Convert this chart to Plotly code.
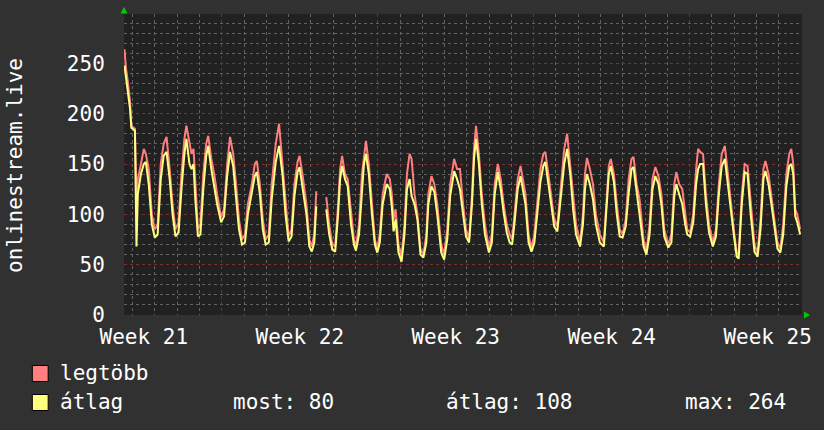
import plotly.graph_objects as go

# ---------------- data ----------------
# time in days from the left edge of the graph
days = [
    0.02, 0.09, 0.18, 0.27, 0.33, 0.49, 0.56, 0.62, 0.76, 0.89, 0.98, 1.11, 1.25,
    1.38, 1.51, 1.65, 1.78, 1.91, 2.05, 2.18,
    2.31, 2.45, 2.58, 2.71, 2.80, 2.94, 3.03, 3.12, 3.20,
    3.32, 3.43, 3.56, 3.69, 3.78, 3.92, 4.05, 4.18,
    4.36, 4.49, 4.63, 4.76, 4.90, 5.03, 5.16,
    5.30, 5.43, 5.56, 5.74, 5.87, 5.96, 6.10, 6.23,
    6.36, 6.50, 6.63, 6.81, 6.96, 7.12, 7.25,
    7.39, 7.52, 7.65, 7.79, 7.88, 8.01, 8.19, 8.32,
    8.43, 8.54, 8.63, 8.85, 9.08, 9.21, 9.35,
    9.48, 9.61, 9.70, 9.79, 9.92, 10.04, 10.19, 10.32,
    10.41, 10.55, 10.68, 10.77, 10.86, 10.99, 11.13, 11.26,
    11.37, 11.48, 11.61, 11.79, 11.93, 12.02, 12.10, 12.19, 12.32,
    12.46, 12.59, 12.70, 12.82, 12.91, 13.04, 13.17, 13.31,
    13.44, 13.57, 13.66, 13.80, 13.93, 14.06, 14.24,
    14.37, 14.51, 14.64, 14.82, 14.95, 15.08, 15.22, 15.35,
    15.49, 15.62, 15.71, 15.80, 15.93, 16.06, 16.20,
    16.38, 16.51, 16.64, 16.78, 16.91, 17.04, 17.18, 17.31,
    17.42, 17.53, 17.67, 17.80, 17.93, 18.02, 18.16,
    18.29, 18.42, 18.56, 18.69, 18.82, 18.91, 19.05, 19.18, 19.31,
    19.45, 19.58, 19.76, 19.89, 20.03, 20.16, 20.29,
    20.47, 20.60, 20.69, 20.78, 20.91, 21.05, 21.18, 21.36,
    21.54, 21.67, 21.76, 21.85, 21.99, 22.12, 22.25,
    22.38, 22.52, 22.65, 22.78, 22.87, 23.01, 23.14, 23.32,
    23.45, 23.59, 23.72, 23.85, 23.99, 24.12, 24.25,
    24.43, 24.57, 24.70, 24.79, 24.92, 25.06, 25.19, 25.28,
    25.41, 25.55, 25.68, 25.77, 25.86, 25.99, 26.12, 26.26,
    26.43, 26.57, 26.70, 26.83, 26.97, 27.10, 27.24, 27.37, 27.50,
    27.59, 27.73, 27.86, 27.99, 28.13, 28.30,
    28.44, 28.57, 28.70, 28.79, 28.93, 29.06, 29.19, 29.33,
    29.46, 29.59, 29.73, 29.86, 29.95, 30.04, 30.13, 30.22, 30.35,
]

legtobb = [
    264, 245, 230, 212, 188, 185, 115, 135, 150, 165, 160, 145, 100,
    85, 90, 150, 170, 177, 145, 110,
    85, 92, 140, 175, 188, 170, 160, 165, 130,
    85, 90, 140, 170, 178, 155, 140, 120,
    97, 105, 150, 177, 160, 130, 95,
    75, 80, 110, 130, 150, 153, 130, 95,
    75, 80, 130, 170, 190, 150, 110,
    78, 85, 130, 152, 158, 140, 110, 75,
    68, 80, 123, None, 117, 90, 70,
    68, 110, 145, 158, 140, 135, 100, 75,
    68, 90, 140, 160, 173, 150, 110, 75,
    66, 80, 120, 140, 135, 120, 95, 105, 70,
    58, 90, 140, 160, 155, 120, 100, 65,
    60, 80, 120, 138, 130, 110, 70,
    60, 85, 130, 155, 145, 145, 110, 85,
    76, 120, 165, 188, 160, 120, 90,
    67, 80, 130, 150, 135, 110, 90, 80,
    75, 100, 135, 148, 130, 120, 80,
    67, 80, 110, 145, 160, 162, 140, 120, 95,
    88, 120, 165, 180, 150, 115, 90,
    72, 100, 140, 156, 145, 130, 100, 80,
    72, 115, 148, 155, 140, 110, 85,
    80, 95, 135, 155, 157, 130, 115, 75,
    63, 90, 135, 147, 138, 120, 85,
    70, 80, 130, 142, 130, 125, 100, 85,
    82, 100, 145, 165, 162, 160, 120, 90,
    72, 85, 130, 160, 168, 140, 110, 85, 62,
    60, 120, 150, 148, 110, 70,
    62, 95, 145, 153, 140, 120, 95, 72,
    66, 90, 140, 160, 165, 150, 105, 100, 85,
]

atlag = [
    248, 235, 222, 205, 186, 183, 68, 120, 140, 150, 152, 130, 90,
    77, 80, 135, 158, 162, 135, 100,
    78, 82, 125, 160, 175, 150, 145, 150, 115,
    78, 80, 125, 158, 168, 145, 128, 110,
    92, 98, 138, 162, 148, 115, 85,
    70, 72, 100, 120, 138, 142, 120, 85,
    70, 72, 115, 152, 168, 138, 100,
    73, 78, 118, 142, 147, 128, 100, 68,
    63, 72, 108, None, 105, 80, 65,
    63, 100, 135, 148, 135, 128, 90, 70,
    64, 80, 128, 150, 160, 140, 100, 70,
    62, 72, 110, 130, 125, 108, 83, 95, 62,
    53, 80, 125, 135, 118, 110, 95, 60,
    57, 72, 110, 128, 122, 100, 62,
    55, 75, 118, 143, 135, 125, 100, 78,
    72, 110, 155, 175, 150, 110, 80,
    62, 72, 120, 142, 125, 102, 82, 72,
    70, 92, 125, 138, 120, 110, 72,
    63, 72, 100, 132, 148, 152, 130, 110, 88,
    83, 110, 150, 165, 140, 105, 80,
    68, 90, 125, 140, 130, 115, 90, 72,
    68, 105, 140, 148, 132, 100, 78,
    77, 88, 120, 145, 147, 120, 100, 68,
    60, 80, 125, 138, 130, 110, 78,
    67, 72, 118, 130, 120, 110, 90, 80,
    78, 92, 130, 145, 150, 150, 110, 82,
    68, 78, 120, 148, 155, 130, 100, 80, 58,
    56, 110, 142, 140, 100, 63,
    58, 85, 135, 143, 130, 110, 88, 66,
    62, 80, 128, 148, 150, 140, 98, 92, 80,
]

series_names = ["legtöbb", "átlag"]
series_colors = ["#ff7f7f", "#ffff7f"]
week_labels = ["Week 21", "Week 22", "Week 23", "Week 24", "Week 25"]
week_label_days = [0.89, 7.89, 14.89, 21.89, 28.89]
stat_labels = ["most: 80", "átlag: 108", "max: 264"]
y_title = "onlinestream.live"

# ---------------- layout geometry ----------------
W, H = 824, 430
ML, MR, MT, MB = 124, 16, 14, 115
PW, PH = W - ML - MR, H - MT - MB
PX_PER_DAY = 22.476
XMAX = PW / PX_PER_DAY
YMAX = 299

FONT = "DejaVu Sans Mono"
BG = "#313131"
PLOT_BG = "#212121"
MINOR = "#626262"
MAJOR = "#7a3030"
TXT = "#ffffff"


def px(xp):
    return (xp - ML) / PW


def py(yp):
    return (MT + PH - yp) / PH


fig = go.Figure()
fig.add_trace(go.Scatter(x=days, y=legtobb, mode="lines", name=series_names[0],
                         line=dict(color=series_colors[0], width=2),
                         connectgaps=False, hoverinfo="skip"))
fig.add_trace(go.Scatter(x=days, y=atlag, mode="lines", name=series_names[1],
                         line=dict(color=series_colors[1], width=2),
                         connectgaps=False, xaxis="x2", hoverinfo="skip"))

fig.update_layout(
    width=W, height=H,
    margin=dict(l=ML, r=MR, t=MT, b=MB),
    paper_bgcolor=BG, plot_bgcolor=PLOT_BG,
    showlegend=False,
    font=dict(family=FONT, size=21, color=TXT),
    xaxis=dict(range=[0, XMAX], showticklabels=False, zeroline=False,
               tick0=4.39, dtick=7, showgrid=True, gridcolor=MAJOR,
               griddash="dot", gridwidth=1,
               minor=dict(tick0=0.39, dtick=1, showgrid=True, gridcolor=MINOR,
                          griddash="dot", gridwidth=1),
               showline=False, fixedrange=True),
    xaxis2=dict(range=[0, XMAX], overlaying="x", anchor="y", side="bottom",
                tickvals=week_label_days, ticktext=week_labels,
                showgrid=False, zeroline=False, ticks="outside", ticklen=3,
                tickcolor="rgba(0,0,0,0)",
                tickfont=dict(family=FONT, size=21, color=TXT)),
    yaxis=dict(range=[0, YMAX], dtick=50, tick0=0, zeroline=False,
               showgrid=True, gridcolor=MAJOR, griddash="dot", gridwidth=1,
               minor=dict(dtick=10, showgrid=True, gridcolor=MINOR,
                          griddash="dot", gridwidth=1),
               ticks="outside", ticklen=14, tickcolor="rgba(0,0,0,0)",
               tickfont=dict(family=FONT, size=21, color=TXT),
               showline=False),
)

shapes = []
# green arrows at the axis ends
shapes.append(dict(type="path", xref="paper", yref="paper",
                   path=f"M {px(120.5)},{py(13.5)} L {px(127.5)},{py(13.5)} L {px(124)},{py(7)} Z",
                   fillcolor="#00cc00", line=dict(width=0)))
shapes.append(dict(type="path", xref="paper", yref="paper",
                   path=f"M {px(810)},{py(311.5)} L {px(810)},{py(318.5)} L {px(816)},{py(315)} Z",
                   fillcolor="#00cc00", line=dict(width=0)))
# legend colour boxes
for i, col in enumerate(series_colors):
    yc = 373.5 + i * 29
    shapes.append(dict(type="rect", xref="paper", yref="paper",
                       x0=px(31.5), x1=px(47.5), y0=py(yc - 8), y1=py(yc + 8),
                       fillcolor=col, line=dict(color="#000000", width=1)))
fig.update_layout(shapes=shapes)

ann = []
for i, name in enumerate(series_names):
    ann.append(dict(text=name, xref="paper", yref="paper", x=px(57), y=py(373 + i * 29),
                    xanchor="left", yanchor="middle", showarrow=False,
                    font=dict(family=FONT, size=21, color=TXT)))
for xs, lab in zip([232, 447, 688], stat_labels):
    ann.append(dict(text=lab, xref="paper", yref="paper", x=px(xs), y=py(402),
                    xanchor="left", yanchor="middle", showarrow=False,
                    font=dict(family=FONT, size=21, color=TXT)))
ann.append(dict(text=y_title, xref="paper", yref="paper", x=px(14), y=py(165),
                xanchor="center", yanchor="middle", textangle=-90, showarrow=False,
                font=dict(family=FONT, size=21, color=TXT)))
fig.update_layout(annotations=ann)

fig.write_html("out.html")
